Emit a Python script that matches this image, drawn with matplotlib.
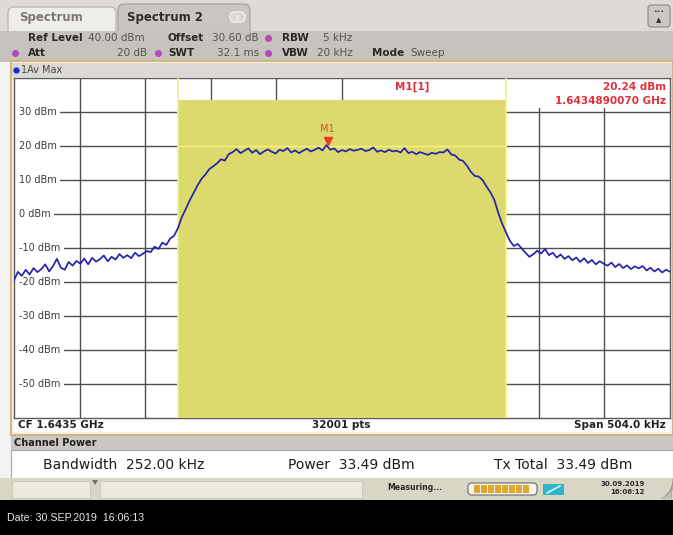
import matplotlib.pyplot as plt
from matplotlib.patches import Rectangle, FancyBboxPatch, Polygon

# sweep settings
center_ghz = 1.6435
span_khz = 504.0
channel_khz = 252.0
sweep_points = 32001
channel_power_dbm = 33.49
tx_total_dbm = 33.49

# reference level grid
grid_levels = [30, 20, 10, 0, -10, -20, -30, -40, -50]
level_labels = ["30 dBm", "20 dBm", "10 dBm", "0 dBm", "-10 dBm",
                "-20 dBm", "-30 dBm", "-40 dBm", "-50 dBm"]

# averaged max-hold trace (dBm), equally spaced across the span
trace_dbm = [
    -19.5, -17.0, -18.2, -16.4, -17.8, -15.9, -17.1, -16.2, -14.8, -16.9,
    -15.3, -13.2, -15.8, -16.4, -14.1, -15.2, -13.8, -14.6,
    -13.1, -14.8, -12.9, -14.0, -13.3, -12.2, -13.9, -12.6, -13.4, -11.8,
    -12.9, -12.1, -13.0, -11.4, -12.4, -11.7, -10.9,
    -11.2, -9.6, -10.3, -8.4, -9.1, -7.2, -6.4, -4.1,
    -0.9, 1.5, 4.0, 6.2, 8.4, 10.3, 11.6, 13.2, 14.0, 14.9, 16.1, 15.7, 17.6,
    18.2, 19.1, 17.9, 18.6, 19.3, 18.0, 18.8, 17.6, 18.4, 19.0,
    18.3, 17.8, 18.9, 18.5, 19.4, 18.1, 18.7, 17.9, 18.6, 19.2,
    18.4, 18.9, 19.5, 18.7, 20.24, 18.9, 19.3, 18.2, 18.8, 18.4,
    19.1, 18.6, 18.9, 19.2, 18.5, 18.8, 19.6, 18.3, 18.7, 18.2,
    18.9, 18.4, 18.6, 18.1, 19.4, 17.9, 18.3, 17.6, 18.2, 17.8,
    17.4, 18.0, 17.7, 18.2, 18.1, 19.0, 17.5,
    17.2, 16.0, 15.6, 14.2, 12.4, 11.2, 11.0, 10.0, 8.1, 6.4,
    4.2, 0.4, -2.8, -5.4, -7.9, -9.4, -8.8, -10.1,
    -11.4, -12.6, -11.8, -10.8, -11.6, -10.3, -12.1, -11.4, -12.8, -11.9,
    -13.2, -12.4, -13.6, -12.8, -14.1, -13.0, -14.4, -13.5, -14.8, -13.9,
    -14.6, -15.2, -14.3, -15.6, -14.7, -15.9, -15.1, -16.2, -15.4, -16.0,
    -15.3, -16.6, -15.8, -16.9, -16.1, -17.2, -16.4, -17.0,
]

# marker M1
marker_ghz = 1.6434890070
marker_dbm = 20.24

W, H = 673, 535
fig = plt.figure(figsize=(W / 100, H / 100), dpi=100)
fig.patch.set_facecolor("#f4f3f1")

# background axes in pixel units for the instrument frame
bg = fig.add_axes([0, 0, 1, 1], zorder=0)
bg.set_xlim(0, W)
bg.set_ylim(H, 0)
bg.axis("off")


def box(x, y, w, h, fc, ec="none", lw=0, z=1):
    bg.add_patch(Rectangle((x, y), w, h, facecolor=fc, edgecolor=ec,
                           linewidth=lw, zorder=z))


# tab bar
box(0, 0, W, 32, "#dedbd7")
bg.add_patch(FancyBboxPatch((8, 7), 108, 30, boxstyle="round,pad=0,rounding_size=6",
                            fc="#efedea", ec="#b4b0ac", lw=0.8, zorder=2))
bg.add_patch(FancyBboxPatch((118, 4), 132, 34, boxstyle="round,pad=0,rounding_size=6",
                            fc="#c9c5c1", ec="#a29e9a", lw=0.8, zorder=2))
bg.text(19, 18, "Spectrum", fontsize=8.5, fontweight="bold", color="#7a7672",
        va="center", zorder=3)
bg.text(127, 17, "Spectrum 2", fontsize=8.5, fontweight="bold", color="#2e2c2a",
        va="center", zorder=3)
bg.add_patch(FancyBboxPatch((230, 12), 15, 10, boxstyle="round,pad=0,rounding_size=5",
                            fc="#d8d5d2", ec="#f4f4f4", lw=1, zorder=3))
bg.text(237.5, 17, "x", fontsize=6, color="#f8f8f8", ha="center", va="center", zorder=4)
bg.add_patch(FancyBboxPatch((648, 5), 22, 22, boxstyle="round,pad=0,rounding_size=3",
                            fc="#cbc7c3", ec="#8c8884", lw=0.8, zorder=2))
bg.text(659, 11, "•••", fontsize=4.5, color="#303030", ha="center", va="center", zorder=3)
bg.text(659, 20, "▲", fontsize=5, color="#303030", ha="center", va="center", zorder=3)

# settings bar
box(0, 31, W, 31, "#c6c2be", z=3)
lab = dict(fontsize=7.5, fontweight="bold", color="#2a2826", va="center", zorder=4)
val = dict(fontsize=7.5, color="#55524f", va="center", zorder=4)
dot = dict(marker="o", ms=4, color="#b448b8", zorder=4)
bg.text(28, 38, "Ref Level", **lab)
bg.text(88, 38, "40.00 dBm", **val)
bg.text(168, 38, "Offset", **lab)
bg.text(212, 38, "30.60 dB", **val)
bg.plot(268, 38, **dot)
bg.text(282, 38, "RBW", **lab)
bg.text(323, 38, "5 kHz", **val)
bg.plot(15, 53, **dot)
bg.text(28, 53, "Att", **lab)
bg.text(147, 53, "20 dB", ha="right", **val)
bg.plot(158, 53, **dot)
bg.text(168, 53, "SWT", **lab)
bg.text(217, 53, "32.1 ms", **val)
bg.plot(268, 53, **dot)
bg.text(282, 53, "VBW", **lab)
bg.text(317, 53, "20 kHz", **val)
bg.text(372, 53, "Mode", **lab)
bg.text(410, 53, "Sweep", **val)

# trace window frame
box(11, 61, 662, 374, "#f4f3f1", ec="#d6b676", lw=1.5, z=3)
box(12, 63, 660, 14, "#dcd9d5", z=4)
bg.plot(16, 70, marker="o", ms=3.5, color="#1a2ccc", zorder=5)
bg.text(21, 70, "1Av Max", fontsize=7, color="#4a4846", va="center", zorder=5)

# footer of the trace window
box(14, 418, 656, 14, "white", z=4)
foot = dict(fontsize=7.5, fontweight="bold", color="#222222", va="center", zorder=5)
bg.text(18, 425, f"CF {center_ghz} GHz", **foot)
bg.text(341, 425, f"{sweep_points} pts", ha="center", **foot)
bg.text(666, 425, f"Span {span_khz:.1f} kHz", ha="right", **foot)

# channel power result table
box(11, 436, 662, 14, "#cbc7c4", z=3)
bg.text(14, 443, "Channel Power", fontsize=7, fontweight="bold", color="#222222",
        va="center", zorder=4)
box(11, 450, 662, 28, "white", ec="#a8a6a4", lw=0.8, z=3)
res = dict(fontsize=10, color="#1c1c1c", va="center", zorder=4)
bg.text(43, 465, f"Bandwidth  {channel_khz:.2f} kHz", **res)
bg.text(288, 465, f"Power  {channel_power_dbm:.2f} dBm", **res)
bg.text(494, 465, f"Tx Total  {tx_total_dbm:.2f} dBm", **res)

# status bar
box(0, 478, W, 22, "#d8d6c4", z=3)
box(12, 481, 78, 17, "#eceadb", ec="#c8c6b6", lw=0.6, z=4)
box(100, 481, 262, 17, "#eceadb", ec="#c8c6b6", lw=0.6, z=4)
bg.add_patch(Polygon([(92, 480), (98, 480), (95, 485)], closed=True,
                     fc="#707070", zorder=5))
bg.text(387, 488, "Measuring...", fontsize=5.6, fontweight="bold", color="#2a2a2a",
        va="center", zorder=5)
bg.add_patch(FancyBboxPatch((468, 483), 69, 12, boxstyle="round,pad=0,rounding_size=4",
                            fc="#f6f4ec", ec="#6a6a6a", lw=0.8, zorder=5))
for k in range(8):
    box(474 + k * 7, 485, 5.5, 8, "#e2a62c", z=6)
box(543, 484, 21, 11, "#2fb6cc", z=5)
bg.plot([547, 560], [493, 486], color="white", lw=1, zorder=6)
bg.text(645, 484, "30.09.2019", fontsize=5, fontweight="bold", color="#2a2a2a",
        ha="right", va="center", zorder=5)
bg.text(645, 492.5, "16:06:12", fontsize=5, fontweight="bold", color="#2a2a2a",
        ha="right", va="center", zorder=5)
for k in range(4):
    bg.plot([662 + k * 3, 673], [499, 488 - k * 3], color="#9a9a90", lw=0.6, zorder=5)

# screenshot caption bar
box(0, 500, W, 35, "black", z=3)
bg.text(7, 518, "Date: 30.SEP.2019  16:06:13", fontsize=7.7, family="Liberation Sans",
        color="#e8e8e8", va="center", zorder=4)

# spectrum display
ax = fig.add_axes([14 / W, 1 - 418 / H, 656 / W, 340 / H], zorder=1)
half = span_khz / 2
ax.set_xlim(-half, half)
ax.set_ylim(-60, 40)
ax.set_xticks([])
ax.set_yticks([])
ax.set_facecolor("white")
for s in ax.spines.values():
    s.set_color("#5a5a5a")
    s.set_linewidth(1)

div = span_khz / 10
for k in range(1, 10):
    ax.axvline(-half + k * div, color="#4e4e4e", lw=1, zorder=1)
for lv, txt in zip(grid_levels, level_labels):
    ax.axhline(lv, color="#4e4e4e", lw=1, zorder=1)
    ax.text(0.007, lv, txt, transform=ax.get_yaxis_transform(), fontsize=7,
            color="#3c3c3c", va="center", ha="left", zorder=2,
            bbox=dict(fc="white", ec="none", pad=2.9))

# marker readout area
ax.add_patch(Rectangle((1.5, 31.2), half - 1.5, 8.8, fc="white", ec="none", zorder=2.5))

# channel bandwidth shading, top at the measured channel power
ch = channel_khz / 2
ax.add_patch(Rectangle((-ch, -60), channel_khz, channel_power_dbm + 60,
                       fc="#dcd96e", ec="none", zorder=3))
ax.axvline(-ch, color="#f2f08c", lw=1.2, zorder=3.5)
ax.axvline(ch, color="#f2f08c", lw=1.2, zorder=3.5)
ax.plot([-ch, ch], [20, 20], color="#f6f47a", lw=1, zorder=3.5)

freqs = [-half + k * span_khz / (len(trace_dbm) - 1) for k in range(len(trace_dbm))]
ax.plot(freqs, trace_dbm, color="#2424a8", lw=1.25, zorder=5)

marker_khz = (marker_ghz - center_ghz) * 1e6
ax.plot(marker_khz, marker_dbm + 1.2, marker="v", ms=6, color="#ea3c1e", zorder=6)
ax.text(marker_khz, marker_dbm + 3.2, "M1", fontsize=7, color="#e2502c",
        ha="center", va="bottom", zorder=6)

red = dict(fontsize=7.5, fontweight="bold", color="#e0303a", transform=ax.transAxes, zorder=6)
ax.text((412 - 14) / 656, 1 - (87 - 78) / 340, "M1[1]", ha="center", va="center", **red)
ax.text(0.994, 1 - (87 - 78) / 340, f"{marker_dbm:.2f} dBm", ha="right", va="center", **red)
ax.text(0.994, 1 - (101 - 78) / 340, f"{marker_ghz:.10f} GHz", ha="right", va="center", **red)

fig.savefig("out.png", dpi=100)
